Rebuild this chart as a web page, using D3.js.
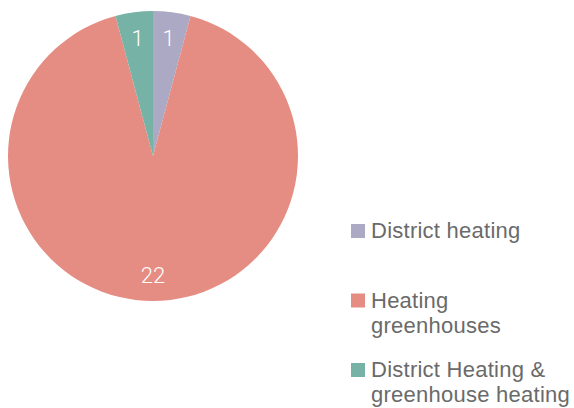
<!DOCTYPE html>
<html>
<head>
<meta charset="utf-8">
<script src="https://cdn.jsdelivr.net/npm/d3@7.9.0/dist/d3.min.js"></script>
<style>
  body { margin: 0; background: #fff; }
  svg { display: block; font-family: "Liberation Sans", Arial, sans-serif; }
</style>
</head>
<body>
<svg id="chart" width="574" height="408"></svg>
<script>
const categories = ['District heating', 'Heating greenhouses', 'District Heating & greenhouse heating'];
const values = [1, 22, 1];
const legendLines = [['District heating'], ['Heating', 'greenhouses'], ['District Heating &', 'greenhouse heating']];
const palette = ['#aba9c4', '#e58d83', '#76b2a6'];

const svg = d3.select('#chart');
const cx = 153, cy = 156, radius = 145;

const color = d3.scaleOrdinal().domain(categories).range(palette);

const data = categories.map((c, i) => ({ label: c, value: values[i] }));
const arcData = d3.pie().sort(null).value((d) => d.value)(data);
const arcGen = d3.arc().innerRadius(0).outerRadius(radius);
const labelArc = d3.arc().innerRadius(radius * 0.82).outerRadius(radius * 0.82);

const g = svg.append('g').attr('transform', `translate(${cx},${cy})`);

g.selectAll('path')
  .data(arcData)
  .join('path')
  .attr('d', arcGen)
  .attr('fill', (d) => color(d.data.label));

g.selectAll('text')
  .data(arcData)
  .join('text')
  .attr('transform', (d) => `translate(${labelArc.centroid(d)})`)
  .attr('text-anchor', 'middle')
  .attr('dy', '0.36em')
  .attr('fill', '#fff')
  .attr('font-size', 22)
  .attr('font-family', 'Roboto, sans-serif')
  .attr('font-weight', 300)
  .text((d) => d.data.value);

// legend
const legend = svg.append('g').attr('transform', 'translate(351,224)');
const item = legend.selectAll('g')
  .data(categories)
  .join('g')
  .attr('transform', (_, i) => `translate(0,${i * 69.5})`);

item.append('rect')
  .attr('width', 14)
  .attr('height', 14)
  .attr('fill', (d) => color(d));

item.append('text')
  .attr('x', 20)
  .attr('y', 14)
  .attr('font-size', 22)
  .attr('letter-spacing', 0.25)
  .attr('fill', '#6a6a6a')
  .selectAll('tspan')
  .data((_, i) => legendLines[i])
  .join('tspan')
  .attr('x', 20)
  .attr('dy', (_, j) => (j === 0 ? 0 : 25))
  .text((t) => t);
</script>
</body>
</html>
